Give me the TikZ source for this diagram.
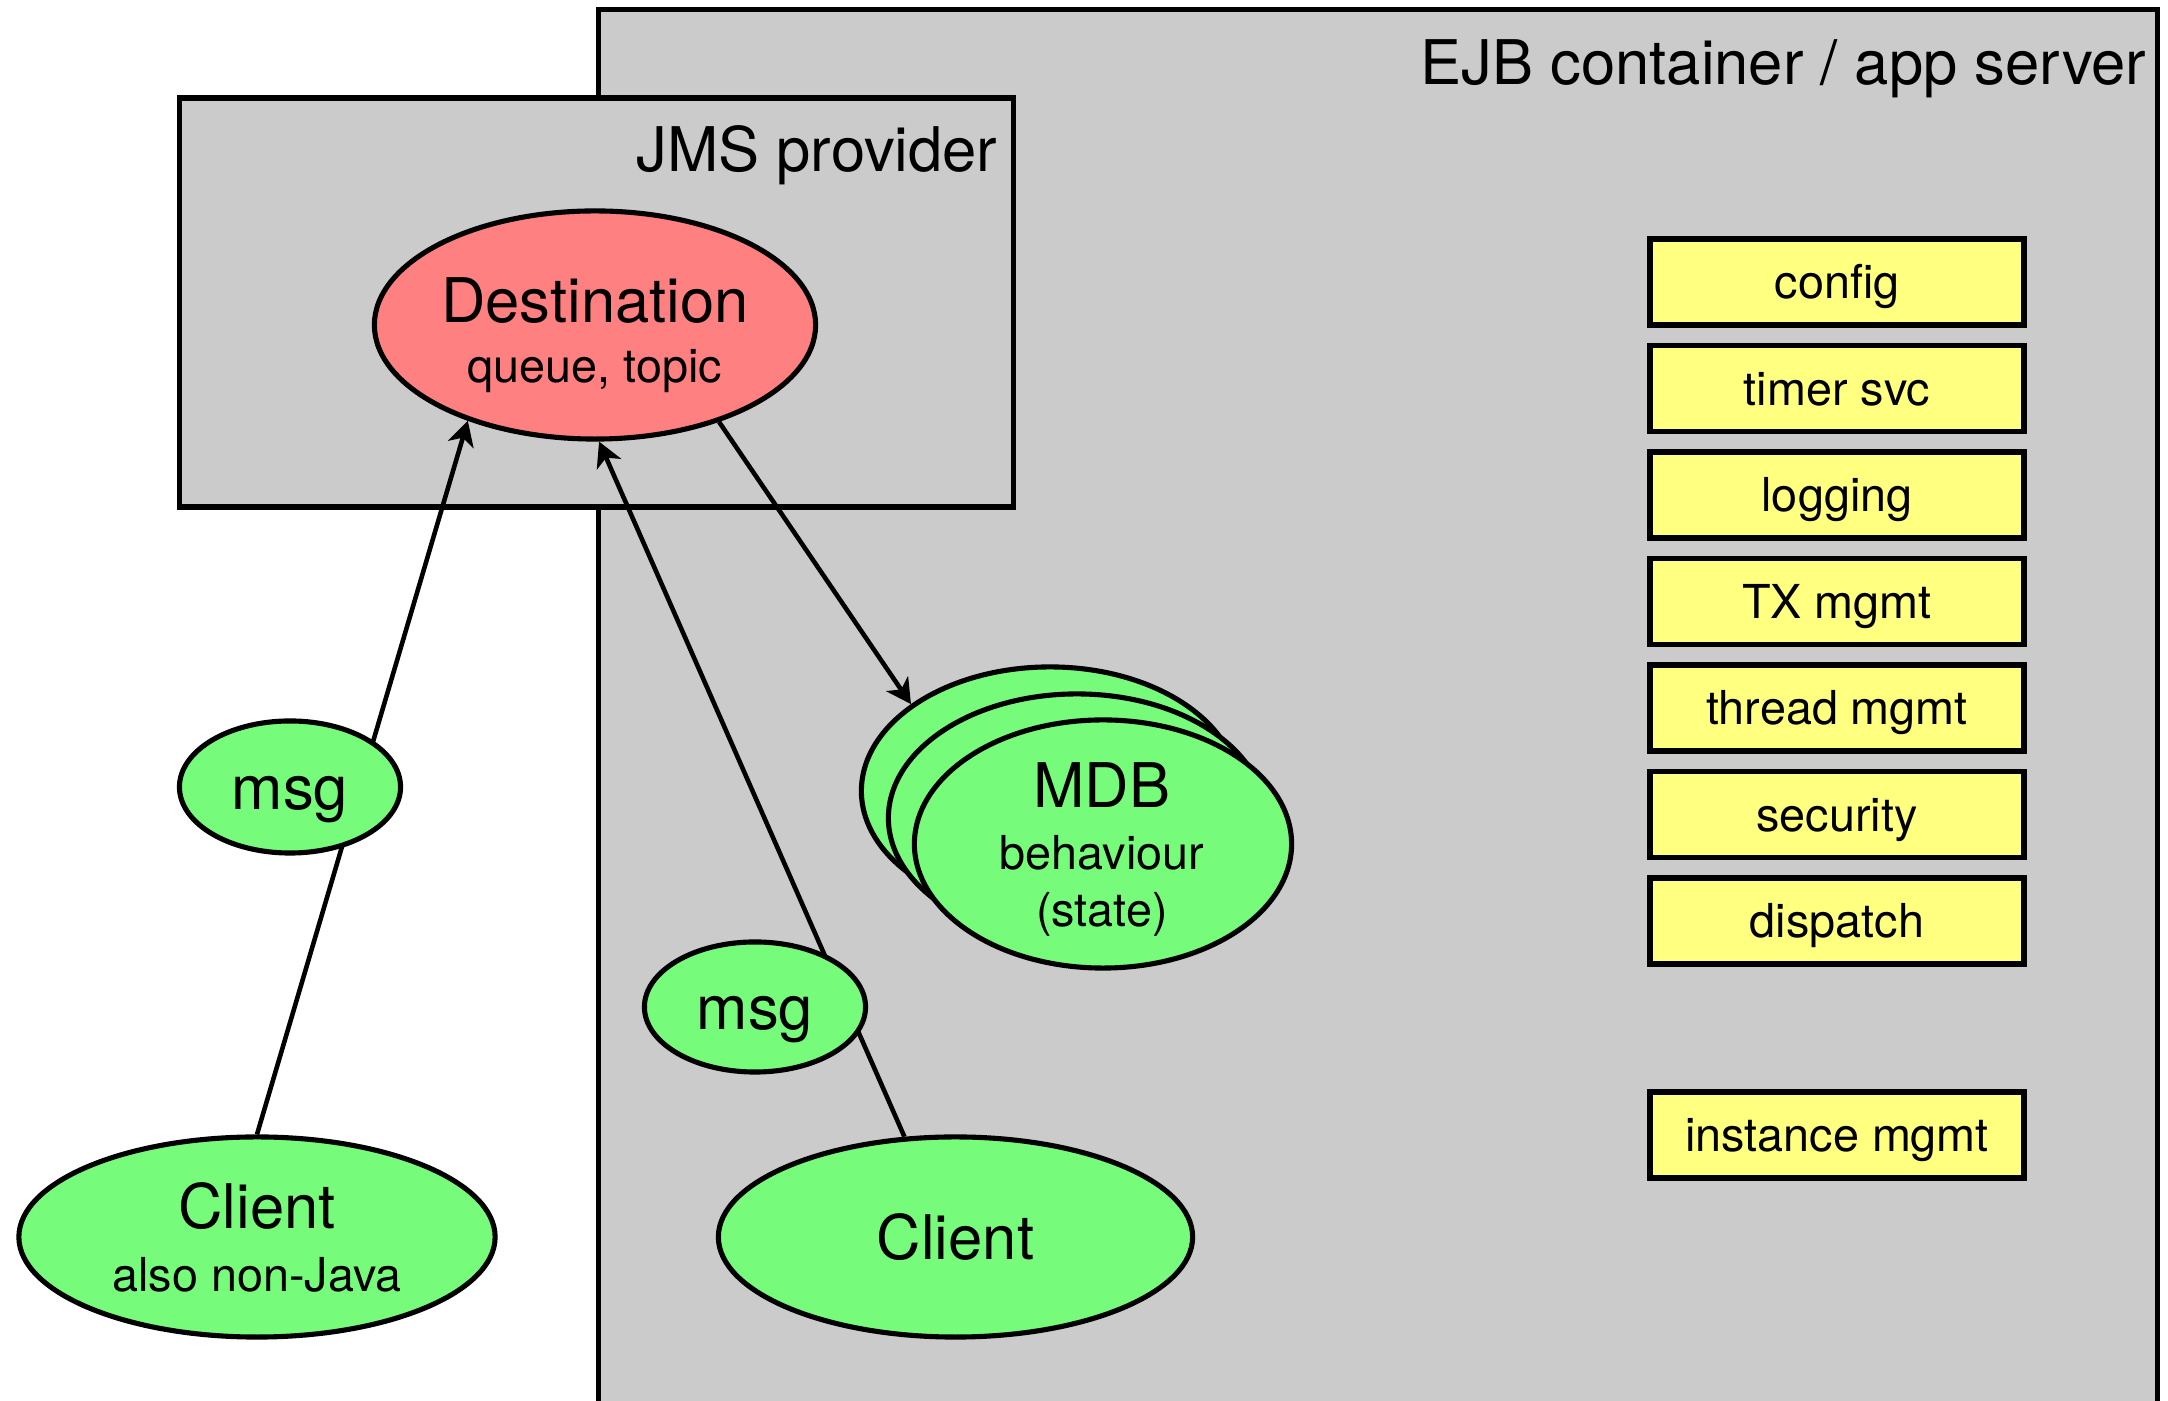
\documentclass[tikz,border=0pt]{standalone}
\usepackage{fontspec}
\setmainfont{TeX Gyre Heros}
\usetikzlibrary{shapes.geometric,arrows.meta}
\definecolor{boxgray}{RGB}{203,203,203}
\definecolor{mdbgreen}{RGB}{118,252,122}
\definecolor{destred}{RGB}{255,128,128}
\definecolor{svcyellow}{RGB}{255,255,128}
\begin{document}
\begin{tikzpicture}[x=0.01cm,y=-0.01cm,
  big/.style={font=\fontsize{17.5pt}{20pt}\selectfont, inner sep=0pt, text height=12.6pt, text depth=0pt},
  small/.style={font=\fontsize{13.3pt}{16pt}\selectfont, inner sep=0pt, text height=9.6pt, text depth=0pt},
  container/.style={rectangle, draw, line width=1.55pt, fill=boxgray, inner sep=0pt},
  bubble/.style={ellipse, draw, line width=1.45pt, fill=mdbgreen, inner sep=0pt},
  svc/.style={rectangle, draw, line width=1.55pt, fill=svcyellow, minimum width=3.74cm, minimum height=0.857cm, inner sep=0pt, font=\fontsize{13.3pt}{16pt}\selectfont, text height=9.6pt, text depth=0pt},
  flow/.style={line width=1.3pt, -{Stealth[length=7pt,width=7.5pt,inset=2pt]}},
]
\useasboundingbox (0,0) rectangle (2168,1401);
\fill[white] (0,0) rectangle (2168,1401);
% containers
\node[container, minimum width=15.58cm, minimum height=14.3cm] (ejb) at (1378,725) {};
\node[container, minimum width=8.33cm, minimum height=4.09cm] (jms) at (596.5,302.5) {};
\node[big, anchor=east] (ejblabel) at (2147,62) {EJB container / app server};
\node[big, anchor=east] (jmslabel) at (998,149) {JMS provider};
% services
\node[svc] (config) at (1837,282) {config};
\node[svc] (timer) at (1837,388.5) {timer svc};
\node[svc] (logging) at (1837,495) {logging};
\node[svc] (tx) at (1837,601.5) {TX mgmt};
\node[svc] (thread) at (1837,708) {thread mgmt};
\node[svc] (security) at (1837,814.5) {security};
\node[svc] (dispatch) at (1837,921) {dispatch};
\node[svc] (instance) at (1837,1135) {instance mgmt};
% destination
\node[ellipse, draw, line width=1.45pt, fill=destred, minimum width=4.41cm, minimum height=2.28cm, inner sep=0pt] (dest) at (595,325) {};
\node[big] (desttitle) at (595,300) {Destination};
\node[small] (destsub) at (595,366) {queue, topic};
% MDB stack
\node[bubble, minimum width=3.77cm, minimum height=2.48cm] (mdbback) at (1050,791) {};
\node[bubble, minimum width=3.77cm, minimum height=2.48cm] (mdbmid) at (1077,818) {};
\node[bubble, minimum width=3.77cm, minimum height=2.48cm] (mdbfront) at (1103,844) {};
\node[big] (mdbtitle) at (1102,785) {MDB};
\node[small] (mdbbeh) at (1102,853) {behaviour};
\node[small] (mdbstate) at (1102,910) {(state)};
% clients
\node[bubble, minimum width=4.76cm, minimum height=2.0cm] (clientL) at (257,1237) {};
\node[big] (clientLtitle) at (257,1206) {Client};
\node[small] (clientLsub) at (257,1275) {also non-Java};
\node[bubble, minimum width=4.74cm, minimum height=2.0cm] (clientR) at (955.5,1237) {};
\node[big] (clientRtitle) at (955.5,1237) {Client};
% connectors
\draw[flow] (clientL.north) -- (dest.217);
\draw[flow] (clientR.117) -- (dest.272);
\draw[flow] (dest.322) -- (mdbback.148);
% messages (on top of connectors)
\node[bubble, minimum width=2.21cm, minimum height=1.32cm] (msgL) at (290,787) {};
\node[big] (msgLtext) at (290,787) {msg};
\node[bubble, minimum width=2.21cm, minimum height=1.30cm] (msgR) at (755,1007) {};
\node[big] (msgRtext) at (755,1007) {msg};
\end{tikzpicture}
\end{document}
